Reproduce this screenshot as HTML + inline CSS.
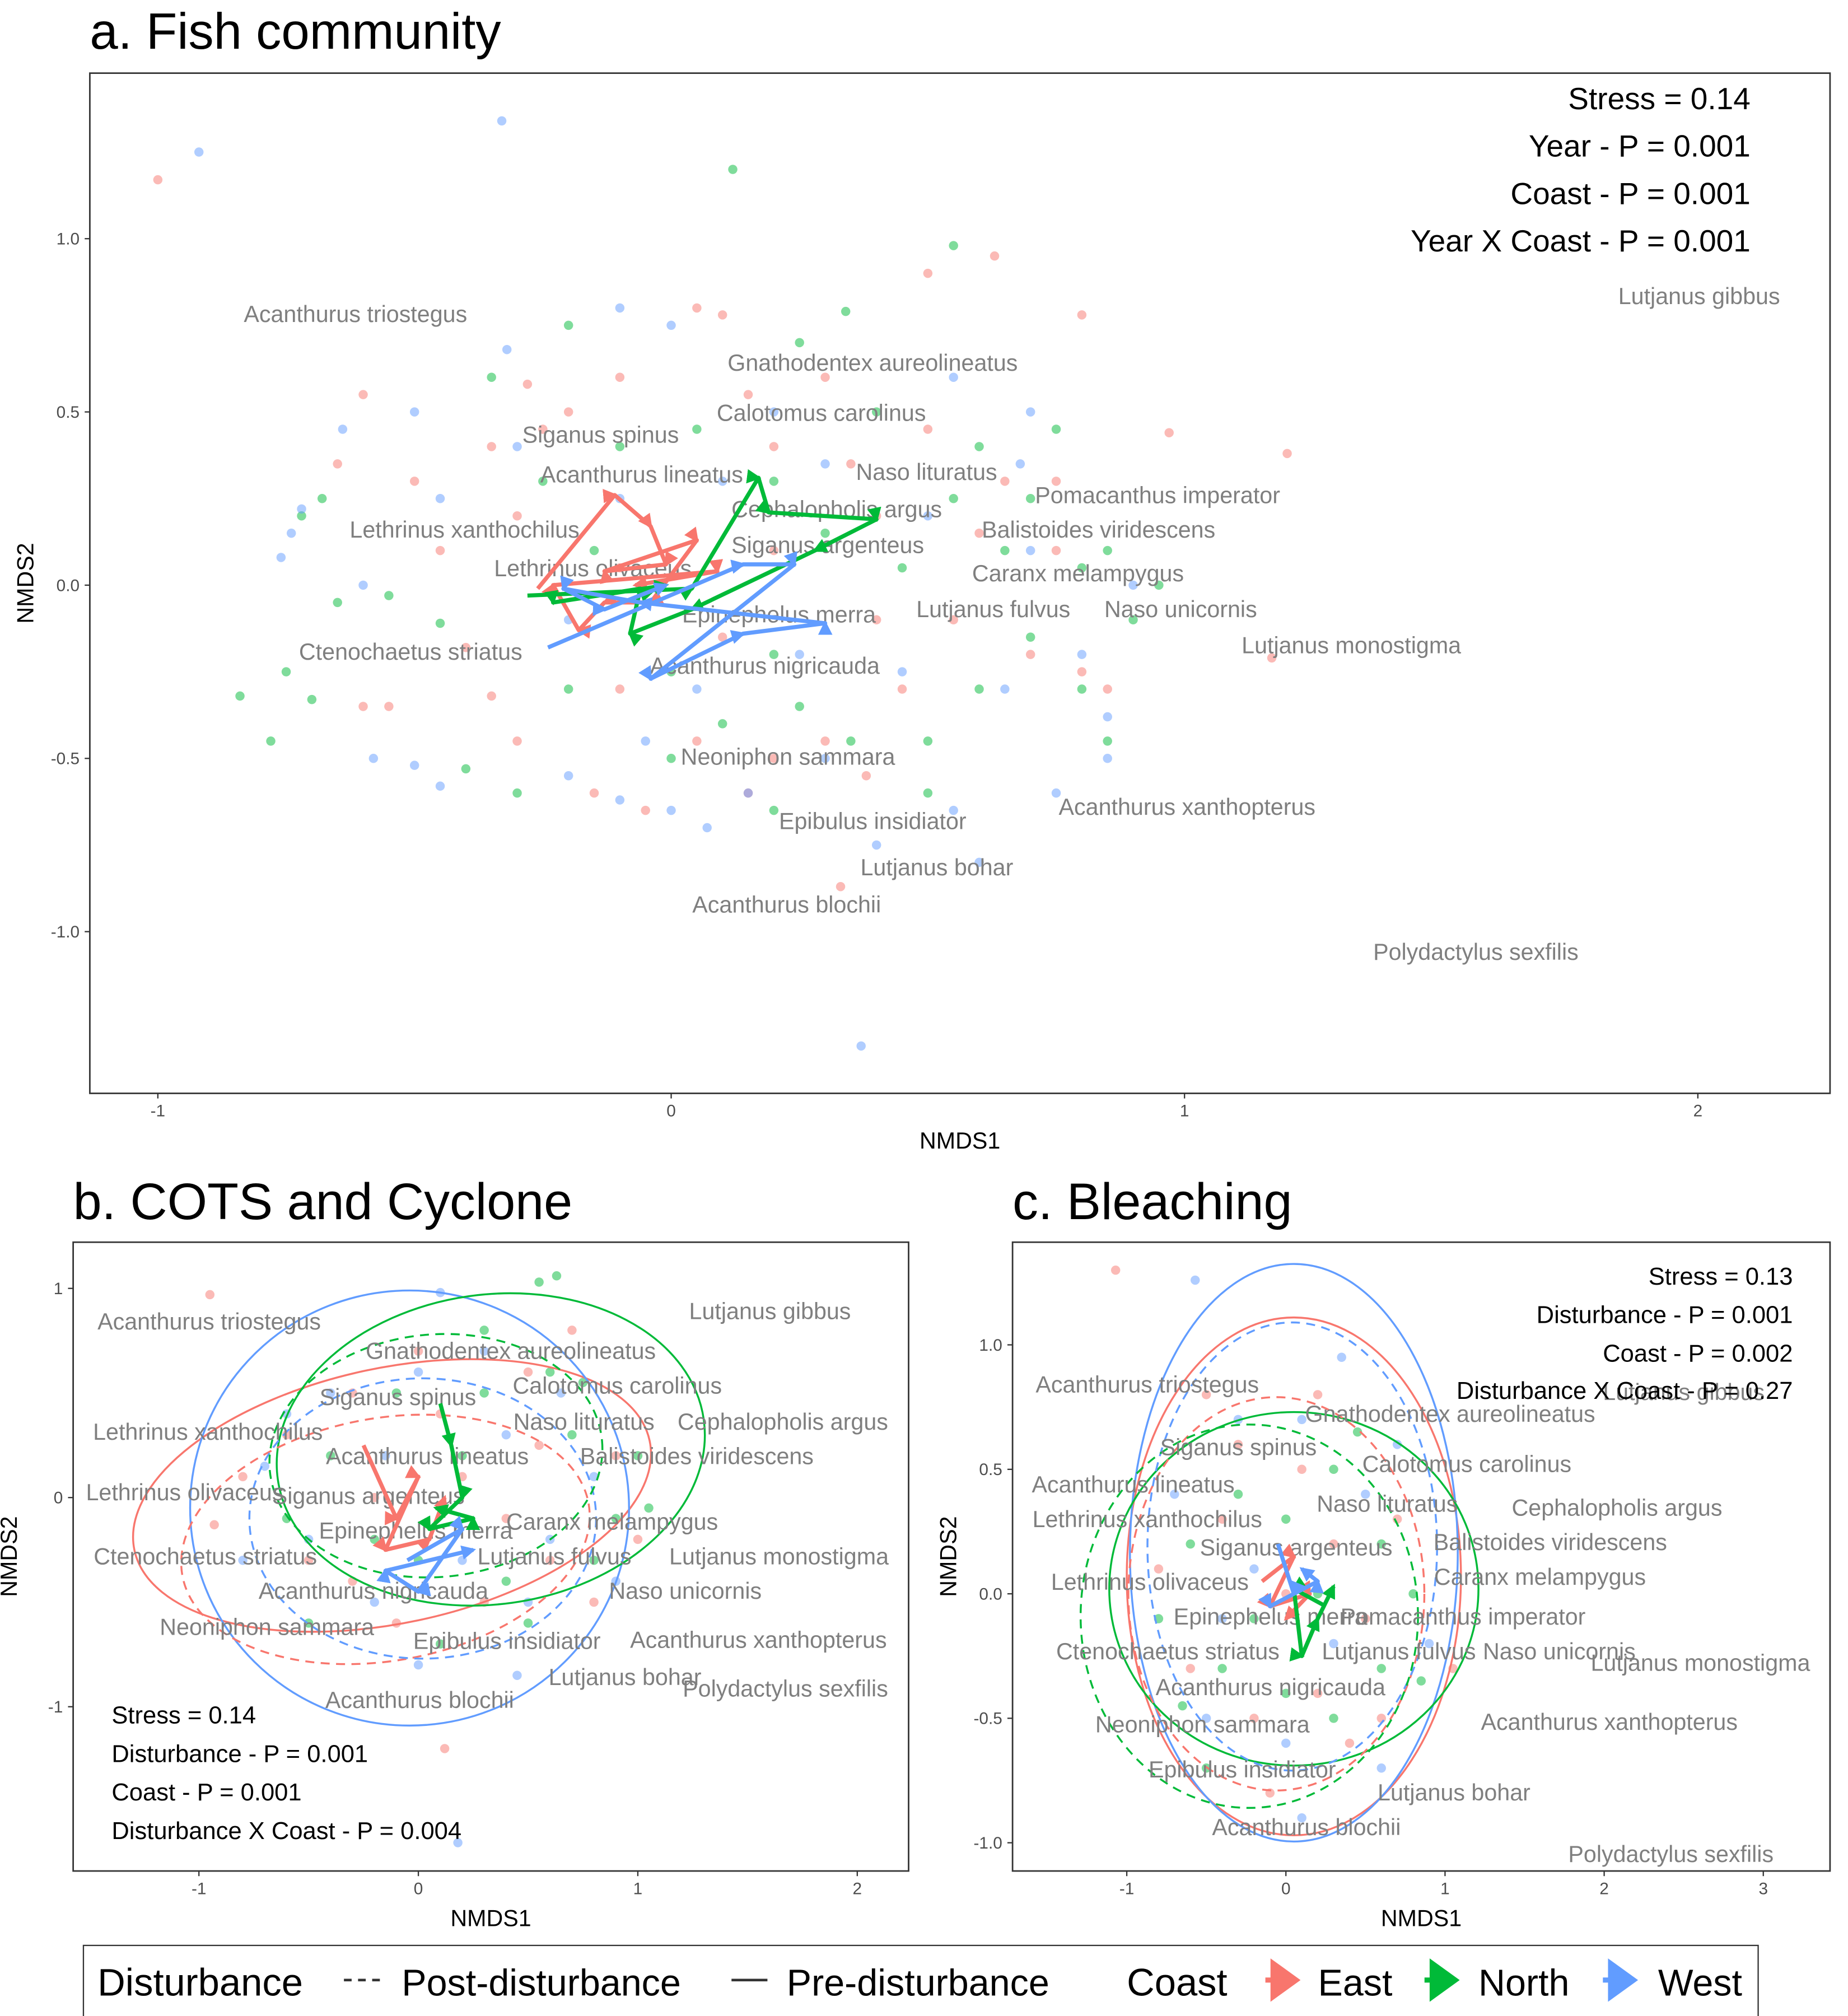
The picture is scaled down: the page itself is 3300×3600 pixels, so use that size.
<!DOCTYPE html>
<html><head><meta charset="utf-8"><style>
html,body{margin:0;padding:0;background:#fff;}
svg{display:block;font-family:"Liberation Sans",Arial,sans-serif;}
</style></head><body>
<svg id="fig" width="3300" height="3600" viewBox="0 0 1440 1571" preserveAspectRatio="none" xmlns="http://www.w3.org/2000/svg">
<defs>
<marker id="arE" viewBox="0 0 10 10" refX="8" refY="5" markerWidth="3.5" markerHeight="3.5" orient="auto"><path d="M0,0L10,5L0,10z" fill="#F8766D"/></marker>
<marker id="arN" viewBox="0 0 10 10" refX="8" refY="5" markerWidth="3.5" markerHeight="3.5" orient="auto"><path d="M0,0L10,5L0,10z" fill="#00BA38"/></marker>
<marker id="arW" viewBox="0 0 10 10" refX="8" refY="5" markerWidth="3.5" markerHeight="3.5" orient="auto"><path d="M0,0L10,5L0,10z" fill="#619CFF"/></marker>
</defs>
<rect width="1440" height="1571" fill="#fff"/>
<text x="70" y="38" font-size="39.5">a. Fish community</text>
<text x="57" y="950" font-size="40">b. COTS and Cyclone</text>
<text x="789" y="950" font-size="40">c. Bleaching</text>
<g id="pa"></g><g id="pb"></g><g id="pc"></g>
<g>
<rect x="65" y="1516" width="1305" height="70" fill="#fff" stroke="#333" stroke-width="1"/>
<text x="76" y="1555" font-size="30">Disturbance</text>
<line x1="268" y1="1543" x2="300" y2="1543" stroke="#333" stroke-width="2" stroke-dasharray="6,5"/>
<text x="313" y="1555" font-size="29">Post-disturbance</text>
<line x1="570" y1="1543" x2="598" y2="1543" stroke="#333" stroke-width="2"/>
<text x="613" y="1555" font-size="29">Pre-disturbance</text>
<text x="878" y="1555" font-size="30">Coast</text>
<path d="M986,1543h10M992,1530l18,13l-18,13z" fill="#F8766D" stroke="#F8766D" stroke-width="4"/>
<text x="1027" y="1555" font-size="29">East</text>
<path d="M1110,1543h10M1116,1530l18,13l-18,13z" fill="#00BA38" stroke="#00BA38" stroke-width="4"/>
<text x="1152" y="1555" font-size="29">North</text>
<path d="M1249,1543h10M1255,1530l18,13l-18,13z" fill="#619CFF" stroke="#619CFF" stroke-width="4"/>
<text x="1292" y="1555" font-size="29">West</text>
</g>
</svg>
<script>
const NS="http://www.w3.org/2000/svg";
const COL={E:"#F8766D",N:"#00BA38",W:"#619CFF"};
// ---------- Panel a data ----------
const aEast=[[-1.0,1.17],[-0.28,0.58],[-0.1,0.6],[0.05,0.8],[0.1,0.78],[0.5,0.9],[0.63,0.95],[0.8,0.78],[0.97,0.44],[1.2,0.38],[-0.35,0.4],[-0.5,0.3],[-0.65,0.35],[-0.2,0.5],[0.15,0.55],[0.3,0.6],[0.4,0.2],[0.6,0.15],[0.75,0.1],[-0.6,-0.35],[-0.55,-0.35],[-0.35,-0.32],[-0.4,-0.18],[-0.1,-0.3],[0.05,-0.45],[0.2,-0.5],[0.3,-0.45],[0.38,-0.55],[0.45,-0.3],[0.55,-0.1],[0.7,-0.2],[0.33,-0.87],[1.17,-0.21],[0.8,-0.25],[0.2,0.1],[-0.1,0.05],[0.1,-0.15],[-0.3,0.2],[0.2,0.4],[0.5,0.45],[0.75,0.3],[0.85,-0.3],[-0.15,-0.6],[-0.05,-0.65],[0.15,-0.6],[0.4,-0.1],[0.65,0.3],[-0.45,0.1],[-0.6,0.55],[-0.25,0.45],[0.35,0.35],[-0.3,-0.45]];
const aNorth=[[-0.84,-0.32],[0.12,1.2],[0.55,0.98],[0.34,0.79],[-0.2,0.75],[-0.75,-0.25],[-0.78,-0.45],[-0.7,-0.33],[-0.65,-0.05],[-0.55,-0.03],[-0.45,-0.11],[-0.4,-0.53],[-0.3,-0.6],[0.0,-0.5],[0.1,-0.4],[0.25,-0.35],[0.35,-0.45],[0.5,-0.45],[0.6,-0.3],[0.7,-0.15],[0.8,0.05],[0.85,0.1],[0.9,-0.1],[0.75,0.45],[0.6,0.4],[0.4,0.5],[0.2,0.3],[0.05,0.45],[-0.1,0.4],[-0.25,0.3],[-0.15,0.1],[0.3,0.15],[0.45,0.05],[0.55,0.25],[0.65,0.1],[0.2,-0.2],[0.0,-0.25],[-0.2,-0.3],[0.8,-0.3],[0.85,-0.45],[0.5,-0.6],[0.2,-0.65],[-0.72,0.2],[-0.68,0.25],[0.95,0.0],[-0.35,0.6],[0.25,0.7],[0.7,0.25]];
const aWest=[[-0.92,1.25],[-0.33,1.34],[0.37,-1.33],[-0.1,0.8],[0.0,0.75],[-0.32,0.68],[-0.64,0.45],[-0.76,0.08],[-0.74,0.15],[-0.72,0.22],[-0.58,-0.5],[-0.5,-0.52],[-0.45,-0.58],[-0.2,-0.55],[-0.1,-0.62],[0.0,-0.65],[0.07,-0.7],[0.15,-0.6],[0.3,-0.5],[0.4,-0.75],[0.55,-0.65],[0.75,-0.6],[0.85,-0.5],[0.8,-0.2],[0.9,0.0],[0.7,0.1],[0.5,0.2],[0.3,0.35],[0.1,0.3],[-0.1,0.25],[-0.3,0.4],[-0.5,0.5],[-0.45,0.25],[-0.2,-0.1],[0.05,-0.3],[0.25,-0.2],[0.45,-0.25],[0.65,-0.3],[0.68,0.35],[0.2,0.5],[-0.05,-0.45],[0.55,0.6],[0.7,0.5],[0.85,-0.38],[-0.6,0.0],[0.6,-0.8]];
const aCentE=[[-0.26,-0.01],[-0.11,0.26],[-0.04,0.17],[-0.01,0.06],[-0.13,0.04],[0.05,0.13],[-0.04,-0.05],[-0.13,-0.05],[-0.18,-0.13],[-0.23,0.0],[0.09,0.04],[-0.07,0.0]];
const aCentN=[[-0.28,-0.03],[0.04,-0.01],[0.17,0.31],[0.19,0.21],[0.40,0.19],[0.28,0.10],[0.04,-0.07],[-0.08,-0.14],[-0.06,-0.01],[-0.23,-0.05],[-0.01,0.0]];
const aCentW=[[-0.24,-0.18],[0.14,0.06],[0.24,0.06],[-0.04,-0.27],[0.14,-0.14],[0.30,-0.11],[-0.06,-0.05],[-0.21,-0.01],[-0.13,-0.07],[-0.01,0.0]];
const aXTicks=[-1,0,1,2], aYTicks=[-1.0,-0.5,0.0,0.5,1.0];
const aXLab=["-1","0","1","2"], aYLab=["-1.0","-0.5","0.0","0.5","1.0"];
// ---------- Panel b data ----------
const bEast=[[-0.95,0.97],[0.12,-1.2],[-0.6,0.3],[-0.3,0.5],[0.1,0.4],[0.5,0.6],[0.7,0.8],[0.9,0.2],[1.0,-0.2],[0.6,-0.3],[0.3,-0.5],[-0.1,-0.6],[-0.5,-0.3],[-0.8,0.1],[-0.93,-0.13],[0.2,0.1],[-0.2,0.0],[0.4,-0.1],[0.8,-0.5],[-0.3,-0.4],[0.0,0.7],[0.55,0.25]];
const bNorth=[[0.63,1.06],[0.55,1.03],[0.6,0.6],[0.3,0.8],[-0.1,0.5],[-0.4,0.2],[0.0,-0.3],[0.4,-0.4],[0.8,-0.3],[1.0,0.2],[0.7,0.3],[0.2,0.2],[-0.2,-0.2],[0.9,-0.1],[0.5,-0.6],[-0.6,-0.1],[0.1,-0.7],[-0.5,-0.6],[0.3,0.5],[0.75,0.55],[1.05,-0.05]];
const bWest=[[0.18,-1.65],[0.1,0.98],[-0.7,0.15],[-0.4,0.5],[0.0,0.6],[0.4,0.3],[0.8,0.1],[0.6,-0.2],[0.2,-0.3],[-0.2,-0.5],[-0.5,-0.2],[0.0,-0.8],[0.5,-0.5],[0.9,-0.4],[-0.8,-0.3],[0.3,0.7],[-0.15,0.2],[0.45,-0.85],[-0.6,0.4],[0.65,0.5]];
const bCentE=[[-0.25,0.25],[-0.1,-0.1],[0.0,0.1],[-0.15,-0.25],[0.05,-0.2],[0.12,0.0]];
const bCentN=[[0.1,0.45],[0.15,0.25],[0.2,0.0],[0.05,-0.15],[0.25,-0.1],[0.08,-0.05]];
const bCentW=[[-0.05,-0.3],[0.2,-0.15],[0.0,-0.45],[-0.15,-0.35],[0.25,-0.25]];
const bXTicks=[-1,0,1,2], bYTicks=[-1,0,1];
const bXLab=["-1","0","1","2"], bYLab=["-1","0","1"];
// ellipses: [cx,cy,rx,ry,angleDeg,color,dashed]
const bEll=[[-0.12,0.01,1.2,0.61,-12,"E",0],[-0.04,-0.05,1.0,1.04,0,"W",0],[0.33,0.23,0.98,0.74,-8,"N",0],[-0.15,-0.2,0.94,0.58,-10,"E",1],[0.02,-0.1,0.79,0.67,0,"W",1],[0.08,0.2,0.76,0.58,-5,"N",1]];
// ---------- Panel c data ----------
const cEast=[[-1.07,1.3],[-0.5,0.8],[-0.3,0.6],[0.1,0.5],[0.3,0.2],[0.5,-0.1],[0.2,-0.4],[-0.2,-0.5],[-0.6,-0.3],[-0.8,0.1],[0.0,0.0],[0.4,-0.6],[-0.4,0.3],[0.7,0.3],[1.05,-0.3],[-0.1,-0.8],[0.2,0.8],[0.6,-0.5]];
const cNorth=[[-0.6,0.2],[-0.3,0.4],[0.0,0.3],[0.3,0.5],[0.6,0.2],[0.8,0.0],[0.6,-0.3],[0.3,-0.5],[0.0,-0.4],[-0.4,-0.3],[-0.8,-0.1],[-0.65,-0.45],[0.85,-0.35],[0.2,0.0],[-0.2,-0.1],[0.45,0.65],[-0.5,-0.7]];
const cWest=[[-0.57,1.26],[0.35,0.95],[-0.3,0.7],[0.1,0.7],[0.5,0.4],[0.7,0.6],[0.3,-0.2],[0.0,-0.6],[-0.4,-0.1],[-0.7,0.4],[0.6,-0.7],[-0.2,0.1],[0.9,-0.2],[0.1,-0.9],[-0.5,-0.5]];
const cCentE=[[-0.15,0.05],[0.05,0.15],[-0.1,-0.05],[0.15,0.0],[0.0,-0.1]];
const cCentN=[[0.25,-0.05],[0.05,0.02],[0.1,-0.25],[0.2,-0.1],[0.3,0.03]];
const cCentW=[[-0.05,0.2],[0.05,0.0],[-0.1,-0.05],[0.2,0.05],[0.1,0.1]];
const cXTicks=[-1,0,1,2,3], cYTicks=[-1.0,-0.5,0.0,0.5,1.0];
const cXLab=["-1","0","1","2","3"], cYLab=["-1.0","-0.5","0.0","0.5","1.0"];
const cEll=[[0.05,0.07,1.05,1.04,0,"E",0],[0.05,0.165,1.03,1.16,0,"W",0],[0.05,0.02,1.16,0.71,0,"N",0],[-0.06,0.0,0.93,0.79,0,"E",1],[0.04,0.19,0.91,0.9,0,"W",1],[-0.23,-0.09,1.06,0.77,0,"N",1]];

function mk(tag,attrs,parent){const e=document.createElementNS(NS,tag);for(const k in attrs)e.setAttribute(k,attrs[k]);parent.appendChild(e);return e;}

function panel(g,box,xs,ys,xT,xL,yT,yL,xlab,ylab,pts,cents,ells,labels,stats,statAnchor){
  const sx=v=>xs[1]+(v-xs[0])*(xs[3]-xs[1])/(xs[2]-xs[0]);
  const sy=v=>ys[1]+(v-ys[0])*(ys[3]-ys[1])/(ys[2]-ys[0]);
  const frame=mk("rect",{x:box[0],y:box[1],width:box[2]-box[0],height:box[3]-box[1],fill:"#fff",stroke:"#333","stroke-width":1.2},g);
  
  
  xT.forEach((t,i)=>{const x=sx(t);
    mk("line",{x1:x,x2:x,y1:box[3],y2:box[3]+4,stroke:"#333"},g);
    const tx=mk("text",{x:x,y:box[3]+18,"font-size":13,"text-anchor":"middle",fill:"#4d4d4d"},g);tx.textContent=xL[i];
    
    });
  yT.forEach((t,i)=>{const y=sy(t);
    mk("line",{x1:box[0]-4,x2:box[0],y1:y,y2:y,stroke:"#333"},g);
    const tx=mk("text",{x:box[0]-8,y:y+4.5,"font-size":13,"text-anchor":"end",fill:"#4d4d4d"},g);tx.textContent=yL[i];
    
    });
  const xt=mk("text",{x:(box[0]+box[2])/2,y:box[3]+43,"font-size":18,"text-anchor":"middle"},g);xt.textContent=xlab;
  
  
  const yx=box[0]-44,yy=(box[1]+box[3])/2;
  const yt=mk("text",{x:yx,y:yy,"font-size":18,"text-anchor":"middle",transform:`rotate(-90 ${yx} ${yy})`},g);yt.textContent=ylab;
  
  
  ["E","N","W"].forEach(c=>{pts[c].forEach(p=>{
    const d=mk("circle",{cx:sx(p[0]),cy:sy(p[1]),r:3.6,fill:COL[c],"fill-opacity":0.5},g);
    
    });});
  (ells||[]).forEach(e=>{
    const cx=sx(e[0]),cy=sy(e[1]),rx=Math.abs(sx(e[0]+e[2])-cx),ry=Math.abs(sy(e[1]+e[3])-cy);
    const el=mk("ellipse",{cx:cx,cy:cy,rx:rx,ry:ry,fill:"none",stroke:COL[e[5]],"stroke-width":1.5,transform:`rotate(${e[4]} ${cx} ${cy})`},g);
    if(e[6])el.setAttribute("stroke-dasharray","7,5");
    
    });
  labels.forEach(l=>{const t=mk("text",{x:l[1],y:l[2]+6,"font-size":18,"text-anchor":"middle",fill:"#7f7f7f"},g);t.textContent=l[0];
    
    });
  ["E","N","W"].forEach(c=>{const arr=cents[c];
    const pl=mk("polyline",{points:arr.map(p=>sx(p[0])+","+sy(p[1])).join(" "),fill:"none",stroke:COL[c],"stroke-width":3.2,"stroke-linejoin":"round","marker-mid":`url(#ar${c})`,"marker-end":`url(#ar${c})`},g);
    
    });
  stats.forEach(s=>{const t=mk("text",{x:s[1],y:s[2],"font-size":s[3],"text-anchor":statAnchor},g);t.textContent=s[0];
    
    });
}
const aLabels=[["Acanthurus triostegus",277,245],["Gnathodentex aureolineatus",680,283],["Calotomus carolinus",640,322],["Siganus spinus",468,339],["Acanthurus lineatus",500,370],["Naso lituratus",722,368],["Pomacanthus imperator",902,386],["Cephalopholis argus",652,397],["Lethrinus xanthochilus",362,413],["Balistoides viridescens",856,413],["Siganus argenteus",645,425],["Lethrinus olivaceus",462,443],["Caranx melampygus",840,447],["Lutjanus fulvus",774,475],["Naso unicornis",920,475],["Epinephelus merra",607,479],["Lutjanus monostigma",1053,503],["Ctenochaetus striatus",320,508],["Acanthurus nigricauda",596,519],["Neoniphon sammara",614,590],["Acanthurus xanthopterus",925,629],["Epibulus insidiator",680,640],["Lutjanus bohar",730,676],["Acanthurus blochii",613,705],["Polydactylus sexfilis",1150,742],["Lutjanus gibbus",1324,231]];
const bLabels=[["Lutjanus gibbus",600,1022],["Acanthurus triostegus",163,1030],["Gnathodentex aureolineatus",398,1053],["Calotomus carolinus",481,1080],["Siganus spinus",310,1089],["Cephalopholis argus",610,1108],["Naso lituratus",455,1108],["Lethrinus xanthochilus",162,1116],["Acanthurus lineatus",333,1135],["Balistoides viridescens",543,1135],["Lethrinus olivaceus",144,1163],["Siganus argenteus",287,1166],["Caranx melampygus",477,1186],["Epinephelus merra",324,1193],["Ctenochaetus striatus",160,1213],["Lutjanus fulvus",432,1213],["Lutjanus monostigma",607,1213],["Acanthurus nigricauda",291,1240],["Naso unicornis",534,1240],["Neoniphon sammara",208,1268],["Epibulus insidiator",395,1279],["Acanthurus xanthopterus",591,1278],["Lutjanus bohar",487,1307],["Polydactylus sexfilis",612,1316],["Acanthurus blochii",327,1325]];
const cLabels=[["Acanthurus triostegus",894,1079],["Lutjanus gibbus",1312,1085],["Gnathodentex aureolineatus",1130,1102],["Siganus spinus",965,1128],["Calotomus carolinus",1143,1141],["Acanthurus lineatus",883,1157],["Naso lituratus",1081,1172],["Cephalopholis argus",1260,1175],["Lethrinus xanthochilus",894,1184],["Balistoides viridescens",1208,1202],["Siganus argenteus",1010,1206],["Caranx melampygus",1200,1229],["Lethrinus olivaceus",896,1233],["Epinephelus merra",990,1260],["Pomacanthus imperator",1140,1260],["Ctenochaetus striatus",910,1287],["Lutjanus fulvus",1090,1287],["Naso unicornis",1215,1287],["Lutjanus monostigma",1325,1296],["Acanthurus nigricauda",990,1315],["Acanthurus xanthopterus",1254,1342],["Neoniphon sammara",937,1344],["Epibulus insidiator",968,1379],["Lutjanus bohar",1133,1397],["Acanthurus blochii",1018,1424],["Polydactylus sexfilis",1302,1445]];
panel(document.getElementById("pa"),[70,57,1426,852],[0,523,1,923],[0,456,1,186],aXTicks,aXLab,aYTicks,aYLab,"NMDS1","NMDS2",
 {E:aEast,N:aNorth,W:aWest},{E:aCentE,N:aCentN,W:aCentW},[],aLabels,
 [["Stress = 0.14",1364,85,24],["Year - P = 0.001",1364,122,24],["Coast - P = 0.001",1364,159,24],["Year X Coast - P = 0.001",1364,196,24]],"end");
panel(document.getElementById("pb"),[57,968,708,1458],[0,326,1,497],[0,1167,1,1004],bXTicks,bXLab,bYTicks,bYLab,"NMDS1","NMDS2",
 {E:bEast,N:bNorth,W:bWest},{E:bCentE,N:bCentN,W:bCentW},bEll,bLabels,
 [["Stress = 0.14",87,1343,19],["Disturbance - P = 0.001",87,1373,19],["Coast - P = 0.001",87,1403,19],["Disturbance X Coast - P = 0.004",87,1433,19]],"start");
panel(document.getElementById("pc"),[789,968,1426,1458],[0,1002,1,1126],[0,1242,1,1048],cXTicks,cXLab,cYTicks,cYLab,"NMDS1","NMDS2",
 {E:cEast,N:cNorth,W:cWest},{E:cCentE,N:cCentN,W:cCentW},cEll,cLabels,
 [["Stress = 0.13",1397,1001,19],["Disturbance - P = 0.001",1397,1031,19],["Coast - P = 0.002",1397,1061,19],["Disturbance X Coast - P = 0.27",1397,1090,19]],"end");
</script>
</body></html>
